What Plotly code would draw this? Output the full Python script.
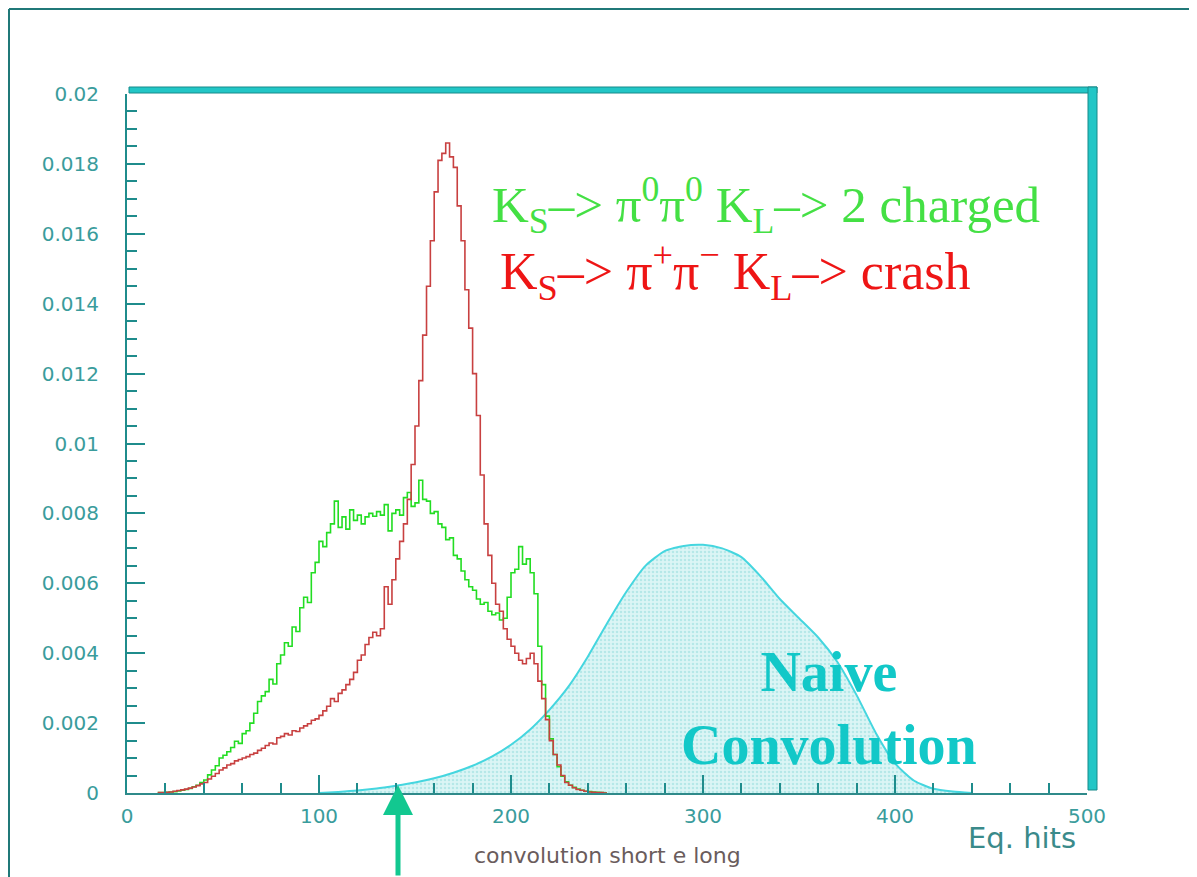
import numpy as np
import plotly.graph_objects as go

# ---------------- data (values in units of 1e-3) ----------------
BIN_START = 16
BIN_WIDTH = 2
green_vals = [
    0.01, 0.01, 0.02, 0.03, 0.04, 0.06, 0.08, 0.10, 0.13, 0.18,
    0.22, 0.30, 0.37, 0.52, 0.66, 0.78, 1.00, 1.08, 1.18, 1.30,
    1.48, 1.42, 1.70, 1.78, 2.00, 2.28, 2.62, 2.78, 2.90, 3.25,
    3.12, 3.70, 3.95, 4.30, 4.20, 4.75, 4.62, 5.30, 5.60, 5.45,
    6.30, 6.60, 7.20, 7.05, 7.45, 7.70, 8.35, 7.60, 7.90, 7.55,
    8.10, 7.80, 7.95, 7.70, 7.90, 8.00, 7.92, 8.05, 7.95, 8.25,
    7.50, 8.00, 8.10, 7.95, 8.45, 8.60, 8.20, 8.30, 8.95, 8.40,
    8.35, 8.00, 8.05, 7.70, 7.60, 7.25, 7.30, 6.80, 6.70, 6.35,
    6.10, 5.90, 5.80, 5.55, 5.40, 5.45, 5.20, 5.10, 5.15, 4.95,
    5.00, 5.60, 6.30, 6.40, 7.05, 6.55, 6.70, 6.30, 5.70, 4.20,
    3.10, 2.20, 1.55, 1.10, 0.75, 0.48, 0.32, 0.22, 0.16, 0.11,
    0.08, 0.05, 0.04, 0.03, 0.02, 0.01, 0.00,
]
red_vals = [
    0.01, 0.01, 0.02, 0.03, 0.05, 0.07, 0.09, 0.11, 0.14, 0.17,
    0.21, 0.26, 0.30, 0.40, 0.48, 0.56, 0.66, 0.72, 0.80, 0.84,
    0.92, 0.96, 1.00, 1.04, 1.10, 1.14, 1.22, 1.28, 1.36, 1.43,
    1.40, 1.58, 1.62, 1.70, 1.66, 1.78, 1.76, 1.86, 1.92, 1.98,
    2.08, 2.12, 2.22, 2.35, 2.48, 2.70, 2.62, 2.85, 2.95, 3.10,
    3.25, 3.45, 3.80, 3.95, 4.25, 4.45, 4.60, 4.50, 4.70, 5.90,
    5.40, 6.10, 6.70, 7.20, 7.70, 8.40, 9.40, 10.50, 11.80, 13.10,
    14.50, 15.80, 17.20, 18.10, 18.30, 18.60, 18.20, 17.90, 16.80, 15.80,
    14.40, 13.30, 12.00, 10.80, 9.10, 7.70, 6.80, 6.00, 5.40, 5.20,
    4.70, 4.40, 4.20, 4.00, 3.80, 3.70, 3.85, 4.00, 3.70, 3.20,
    2.70, 2.10, 1.50, 1.10, 0.80, 0.50, 0.30, 0.22, 0.15, 0.10,
    0.08, 0.05, 0.03, 0.02, 0.01, 0.01, 0.00,
]
conv_x = [100, 110, 120, 130, 140, 150, 160, 170, 180, 190, 200, 210, 220,
          230, 240, 250, 260, 270, 280, 290, 300, 310, 320, 330, 340, 350,
          360, 370, 380, 390, 400, 410, 420, 430, 440]
conv_vals = [0.0, 0.03, 0.07, 0.13, 0.21, 0.30, 0.42, 0.58, 0.78, 1.04, 1.38,
             1.82, 2.38, 3.05, 3.90, 4.85, 5.75, 6.50, 6.92, 7.07, 7.10, 7.00,
             6.75, 6.20, 5.55, 5.00, 4.45, 3.75, 2.80, 1.72, 0.85, 0.35, 0.12,
             0.04, 0.0]
SCALE = 1e-3

x_ticks = [0, 100, 200, 300, 400, 500]
y_ticks = [0, 0.002, 0.004, 0.006, 0.008, 0.01, 0.012, 0.014, 0.016, 0.018, 0.02]
y_ticklabels = ["0", "0.002", "0.004", "0.006", "0.008", "0.01", "0.012",
                "0.014", "0.016", "0.018", "0.02"]

# ---------------- layout geometry (reference pixel space) ----------------
W, H = 1197, 877
OFF = 8                      # page body margin
L, R, T, B = 127, 1087, 94, 793


def px(xp):
    return (xp - L) / (R - L)


def py(yp):
    return (B - yp) / (B - T)


def step_xy(vals):
    xs = [BIN_START + BIN_WIDTH * i for i in range(len(vals))]
    xs.append(xs[-1] + BIN_WIDTH)
    ys = [v * SCALE for v in vals] + [0.0]
    return xs, ys


fig = go.Figure()

fig.add_trace(go.Scatter(
    x=conv_x, y=[v * SCALE for v in conv_vals], mode="lines",
    line=dict(color="#45d6df", width=2, shape="spline", smoothing=0.6),
    fill="tozeroy", fillcolor="rgba(200,240,242,0.9)",
    fillpattern=dict(shape=".", fgcolor="#8fdcdc", bgcolor="#dcf5f5",
                     size=4, solidity=0.35),
    hoverinfo="skip", showlegend=False))

gx, gy = step_xy(green_vals)
fig.add_trace(go.Scatter(x=gx, y=gy, mode="lines",
                         line=dict(color="#22dd22", width=1.6, shape="hv"),
                         showlegend=False))
rx, ry = step_xy(red_vals)
fig.add_trace(go.Scatter(x=rx, y=ry, mode="lines",
                         line=dict(color="#c84040", width=1.6, shape="hv"),
                         showlegend=False))

axis_col = "#1f8c8c"
tick_font = dict(family="DejaVu Sans", size=20, color="#3a9c9c")

fig.update_xaxes(range=[0, 500], tickvals=x_ticks, ticks="inside", ticklen=18,
                 tickwidth=2, tickcolor=axis_col, showline=True, linecolor="#2f8a8a",
                 linewidth=2, showgrid=False, zeroline=False, tickfont=tick_font,
                 ticklabelstandoff=4,
                 minor=dict(dtick=20, ticks="inside", ticklen=10, tickwidth=2,
                            tickcolor=axis_col, showgrid=False))
fig.update_yaxes(range=[0, 0.02], tickvals=y_ticks, ticktext=y_ticklabels,
                 ticks="inside", ticklen=18, tickwidth=2, tickcolor=axis_col,
                 showline=True, linecolor=axis_col, linewidth=2, showgrid=False,
                 zeroline=False, tickfont=tick_font, ticklabelstandoff=22,
                 minor=dict(dtick=0.0005, ticks="inside", ticklen=10, tickwidth=2,
                            tickcolor=axis_col, showgrid=False))

shapes = [
    # outer frame (left and top)
    dict(type="line", xref="paper", yref="paper", x0=px(9), x1=px(9),
         y0=py(9), y1=py(H + 5), line=dict(color="#207878", width=2)),
    dict(type="line", xref="paper", yref="paper", x0=px(9), x1=px(W + 5),
         y0=py(9), y1=py(9), line=dict(color="#207878", width=2)),
    # 3D frame bands (top and right)
    dict(type="rect", xref="paper", yref="paper", x0=px(129), x1=px(1097),
         y0=py(93), y1=py(87), fillcolor="#22c6c6",
         line=dict(color="#168a8a", width=1)),
    dict(type="rect", xref="paper", yref="paper", x0=px(1088), x1=px(1097),
         y0=py(790), y1=py(87), fillcolor="#22c6c6",
         line=dict(color="#168a8a", width=1)),
]

serif = "Liberation Serif"
annotations = [
    dict(xref="paper", yref="paper", x=px(490), y=py(205), xanchor="left",
         yanchor="middle", showarrow=False,
         text="K<sub>S</sub>\u2013> \u03c0<sup>0</sup>\u03c0<sup>0</sup> K<sub>L</sub>\u2013> 2 charged",
         font=dict(family=serif, size=51, color="#44e044")),
    dict(xref="paper", yref="paper", x=px(498), y=py(271), xanchor="left",
         yanchor="middle", showarrow=False,
         text="K<sub>S</sub>\u2013> \u03c0<sup>+</sup>\u03c0<sup>\u2212</sup> K<sub>L</sub>\u2013> crash",
         font=dict(family=serif, size=52, color="#ee1515")),
    dict(xref="paper", yref="paper", x=px(829), y=py(708), xanchor="center",
         yanchor="middle", showarrow=False,
         text="<b>Naive</b><br><b>Convolution</b>",
         font=dict(family=serif, size=56, color="#12c8c8")),
    dict(xref="paper", yref="paper", x=px(1022), y=py(838), xanchor="center",
         yanchor="middle", showarrow=False, text="Eq. hits",
         font=dict(family="DejaVu Sans", size=29, color="#3a8a8a")),
    dict(xref="paper", yref="paper", x=px(607), y=py(855), xanchor="center",
         yanchor="middle", showarrow=False, text="convolution short e long",
         font=dict(family="DejaVu Sans", size=22, color="#6a5c5c")),
    # arrow
    dict(xref="paper", yref="paper", x=px(398), y=py(785), ax=0, ay=92,
         showarrow=True, arrowhead=2,
         arrowsize=1.2, arrowwidth=5, arrowcolor="#12c890", text=""),
]

fig.update_layout(width=W - OFF, height=H - OFF,
                  margin=dict(l=L - OFF, r=W - R, t=T - OFF, b=H - B),
                  paper_bgcolor="white", plot_bgcolor="white",
                  shapes=shapes, annotations=annotations, showlegend=False)

fig.write_html("out.html")
